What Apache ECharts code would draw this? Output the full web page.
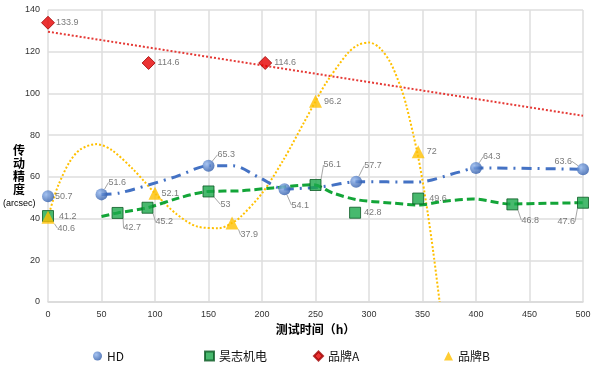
<!DOCTYPE html>
<html>
<head>
<meta charset="utf-8">
<script src="https://cdn.jsdelivr.net/npm/echarts@6/dist/echarts.min.js"></script>
<style>
  html, body { margin: 0; padding: 0; background: #fff; }
  #chart { width: 600px; height: 377px; }
</style>
</head>
<body>
<div id="chart"></div>
<script>
// measured points
const hdX = [0, 50, 150, 221, 288, 400, 500];
const hdY = [50.7, 51.6, 65.3, 54.1, 57.7, 64.3, 63.6];
const hzX = [0, 65, 93, 150, 250, 287, 346, 434, 500];
const hzY = [41.2, 42.7, 45.2, 53, 56.1, 42.8, 49.6, 46.8, 47.6];
const brandAX = [0, 94, 203];
const brandAY = [133.9, 114.6, 114.6];
const brandBX = [0, 100, 172, 250, 346];
const brandBY = [40.6, 52.1, 37.9, 96.2, 72];

// trend lines
const hdTrend = [[50, 51.6], [67, 52.3], [119, 60], [150, 65.3], [173, 65.3], [198, 59.5], [221, 54.2], [257, 55.3], [289, 57.7], [345, 57.5], [385, 62.4], [400, 64.3], [500, 63.6]];
const hzTrend = [[50, 41], [65, 42.7], [93, 45.2], [123, 50], [150, 53], [179, 53.3], [210, 54.7], [248, 56.2], [266, 52.3], [289, 49], [320, 47.5], [348, 46.5], [366, 48], [397, 49.4], [432, 47], [466, 47.3], [500, 47.6]];
const brandATrend = [[0, 129.6], [500, 89.3]];
const brandBTrend = [[0, 40.6], [5, 49.2], [10, 56.4], [20, 67], [30, 73.1], [45, 75.7], [60, 72.7], [80, 63.4], [90, 57.8], [100, 52.1], [120, 42.2], [140, 36.1], [160, 35.4], [172, 37.9], [180, 40.8], [200, 52.1], [220, 68.1], [240, 86.8], [250, 96.2], [260, 105.1], [280, 119.2], [290, 123.3], [300, 124.4], [310, 121.8], [320, 114.8], [330, 102.5], [335, 94], [345, 72], [350, 58.2], [355, 42.3], [360, 24.2], [366, 0]];

// label placement: [position, dx, dy, leader line]
const hdLabelPos = [['right', -4, 0, false], ['right', -4, -12, true], ['right', -2, -11, true], ['right', -4, 16, true], ['right', -3, -16, true], ['right', -4, -11, true], ['left', 0, -8, true]];
const hzLabelPos = [['right', 0, 0, false], ['right', -5, 15, true], ['right', -3, 14, true], ['right', 1, 13, true], ['right', -3, -20, true], ['right', -2, 0, false], ['right', 0, 0, false], ['right', -2, 16, true], ['left', 3, 19, true]];
const brandALabelPos = [['right', -4, 0, false], ['right', -3, 0, false], ['right', -3, 0, false]];
const brandBLabelPos = [['right', -2, 11, true], ['right', -5, 0, false], ['right', -3, 12, true], ['right', -3, 0, false], ['right', -3, 0, false]];

const chart = echarts.init(document.getElementById('chart'));

function points(xs, ys, pos) {
  return xs.map((x, i) => ({
    value: [x, ys[i]],
    label: { position: pos[i][0] },
    labelLine: { show: pos[i][3] }
  }));
}

function scatter(name, xs, ys, pos, symbol, size, itemStyle) {
  return {
    name: name,
    type: 'scatter',
    symbol: symbol,
    symbolSize: size,
    z: 5,
    itemStyle: itemStyle,
    data: points(xs, ys, pos),
    label: {
      show: true,
      formatter: p => String(p.value[1]),
      fontSize: 9,
      color: '#595959',
      fontFamily: 'Liberation Sans'
    },
    labelLine: { lineStyle: { color: '#a6a6a6', width: 1 } },
    labelLayout: p => ({ dx: pos[p.dataIndex][1], dy: pos[p.dataIndex][2] }),
    emphasis: { disabled: true }
  };
}

function trend(name, data, color, width, type, smooth) {
  return {
    name: name,
    type: 'line',
    data: data,
    showSymbol: false,
    smooth: smooth,
    z: 2,
    lineStyle: { color: color, width: width, type: type },
    emphasis: { disabled: true }
  };
}

function legendAt(name, left) {
  return {
    data: [name],
    left: left,
    top: 345,
    itemWidth: 9,
    itemHeight: 9,
    textStyle: { fontSize: 12, color: '#111', fontFamily: 'Noto Sans CJK SC' }
  };
}

chart.setOption({
  backgroundColor: '#fff',
  animation: false,
  grid: { left: 48, right: 17, top: 10, bottom: 75 },
  legend: [
    legendAt('HD', 88),
    legendAt('昊志机电', 199),
    legendAt('品牌A', 308),
    legendAt('品牌B', 439)
  ],
  graphic: [
    {
      type: 'text',
      left: 13,
      top: 144,
      style: {
        text: '传\n动\n精\n度',
        fontSize: 12,
        fontWeight: 'bold',
        fontFamily: 'Noto Sans CJK SC',
        lineHeight: 13,
        fill: '#000'
      }
    },
    {
      type: 'text',
      left: 3,
      top: 199,
      style: {
        text: '(arcsec)',
        fontSize: 9,
        fontFamily: 'Liberation Sans',
        fill: '#000'
      }
    }
  ],
  xAxis: {
    type: 'value',
    min: 0,
    max: 500,
    interval: 50,
    name: '测试时间（h）',
    nameLocation: 'middle',
    nameGap: 21,
    nameTextStyle: { fontSize: 12, fontWeight: 'bold', color: '#000', fontFamily: 'Noto Sans CJK SC' },
    axisLine: { lineStyle: { color: '#d9d9d9', width: 1.5 } },
    axisTick: { show: false },
    axisLabel: { fontSize: 9, color: '#333', margin: 8 },
    splitLine: { lineStyle: { color: '#dedede', width: 1.5 } }
  },
  yAxis: {
    type: 'value',
    min: 0,
    max: 140,
    interval: 20,
    axisLine: { show: false },
    axisTick: { show: false },
    axisLabel: { fontSize: 9, color: '#333', margin: 8 },
    splitLine: { lineStyle: { color: '#dedede', width: 1.5 } }
  },
  series: [
    trend('品牌A趋势', brandATrend, '#e53935', 2, 'dotted', false),
    trend('品牌B趋势', brandBTrend, '#ffc000', 2, 'dotted', 0.3),
    trend('HD趋势', hdTrend, '#4472c4', 3, [10, 6, 2, 6], 0.3),
    trend('昊志机电趋势', hzTrend, '#13a538', 3, [8, 4], 0.3),
    scatter('HD', hdX, hdY, hdLabelPos, 'circle', 12, {
      color: new echarts.graphic.RadialGradient(0.35, 0.35, 0.7, [
        { offset: 0, color: '#8fb4ee' },
        { offset: 1, color: '#2e5aa8' }
      ])
    }),
    scatter('昊志机电', hzX, hzY, hzLabelPos, 'rect', 11, {
      color: '#1aa84a', borderColor: '#0b5a24', borderWidth: 1
    }),
    scatter('品牌A', brandAX, brandAY, brandALabelPos, 'diamond', 13, {
      color: '#e60000', borderColor: '#a00000', borderWidth: 1
    }),
    scatter('品牌B', brandBX, brandBY, brandBLabelPos, 'triangle', 13, {
      color: '#ffc000'
    })
  ]
});
</script>
</body>
</html>
